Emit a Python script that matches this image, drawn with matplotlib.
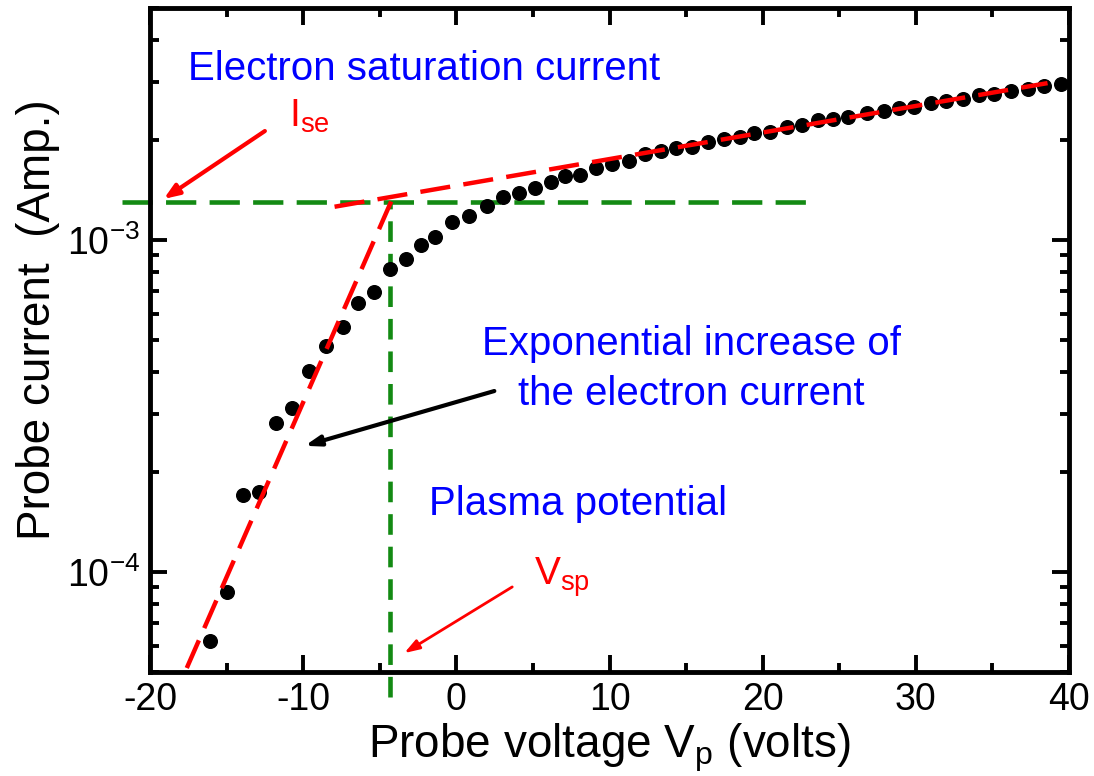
import matplotlib
matplotlib.use("Agg")
import matplotlib.pyplot as plt
from matplotlib.ticker import MultipleLocator, LogLocator, NullFormatter

plt.rcParams["font.family"] = "Liberation Sans"
plt.rcParams["mathtext.fontset"] = "custom"
plt.rcParams["mathtext.rm"] = "Liberation Sans"
plt.rcParams["mathtext.it"] = "Liberation Sans:italic"
plt.rcParams["mathtext.bf"] = "Liberation Sans:bold"
plt.rcParams["axes.unicode_minus"] = False

# measured probe characteristic (volts, amps)
probe_v = [-16.1, -15.0, -13.9, -12.9, -11.8, -10.7, -9.6, -8.5, -7.4, -6.4,
           -5.4, -4.35, -3.3, -2.3, -1.4, -0.3, 0.84, 1.99, 3.05, 4.09,
           5.13, 6.15, 7.12, 8.1, 9.13, 10.19, 11.27, 12.31, 13.35, 14.36,
           15.39, 16.43, 17.45, 18.49, 19.46, 20.47, 21.56, 22.6, 23.6, 24.58,
           25.6, 26.8, 27.9, 28.9, 29.9, 31.0, 32.0, 33.1, 34.1, 35.1,
           36.2, 37.3, 38.4, 39.5]
probe_i = [6.2e-5, 8.7e-5, 1.71e-4, 1.74e-4, 2.82e-4, 3.13e-4, 4.04e-4, 4.78e-4, 5.46e-4, 6.46e-4,
           6.98e-4, 8.2e-4, 8.75e-4, 9.66e-4, 1.02e-3, 1.13e-3, 1.18e-3, 1.27e-3, 1.35e-3, 1.39e-3,
           1.43e-3, 1.50e-3, 1.56e-3, 1.57e-3, 1.65e-3, 1.69e-3, 1.73e-3, 1.82e-3, 1.85e-3, 1.89e-3,
           1.91e-3, 1.97e-3, 2.01e-3, 2.04e-3, 2.10e-3, 2.11e-3, 2.19e-3, 2.22e-3, 2.30e-3, 2.31e-3,
           2.35e-3, 2.41e-3, 2.44e-3, 2.50e-3, 2.51e-3, 2.58e-3, 2.63e-3, 2.66e-3, 2.74e-3, 2.76e-3,
           2.81e-3, 2.86e-3, 2.91e-3, 2.96e-3]

# fitted straight lines (end points)
fit_exp_v = [-17.6, -4.0]
fit_exp_i = [5.14e-5, 1.39e-3]
fit_sat_v = [-7.95, 38.6]
fit_sat_i = [1.26e-3, 2.97e-3]

# guide lines for I_se and V_sp
ise_level_v = [-21.8, 22.8]
ise_level_i = [1.30e-3, 1.30e-3]
vsp_line_v = [-4.3, -4.3]
vsp_line_i = [4.2e-5, 1.30e-3]

RED = "#ff0000"
GREEN = "#138a13"
BLUE = "#0000ff"
TEXT_SIZE = 29

fig = plt.figure(figsize=(10.94, 7.76), dpi=100)
ax = fig.add_axes([150 / 1094, 1 - 672 / 776, 919 / 1094, 664 / 776])
ax.set_yscale("log")

ax.plot(ise_level_v, ise_level_i, color=GREEN, lw=3.3, dashes=(6.6, 2.9), clip_on=False, zorder=2)
ax.plot(vsp_line_v, vsp_line_i, color=GREEN, lw=3.3, dashes=(4.5, 2.6), clip_on=False, zorder=2)
ax.plot(probe_v, probe_i, "o", color="black", ms=9.8, zorder=3)
ax.plot(fit_exp_v, fit_exp_i, color=RED, lw=3.2, dashes=(6.8, 3.0), zorder=4)
ax.plot(fit_sat_v, fit_sat_i, color=RED, lw=3.2, dashes=(6.8, 3.0), zorder=4)

# annotations
ax.text(-17.5, 3.03e-3, "Electron saturation current", color=BLUE, fontsize=TEXT_SIZE)
ax.text(15.34, 4.51e-4, "Exponential increase of", color=BLUE, fontsize=TEXT_SIZE, ha="center")
ax.text(15.34, 3.19e-4, "the electron current", color=BLUE, fontsize=TEXT_SIZE, ha="center")
ax.text(-1.76, 1.49e-4, "Plasma potential", color=BLUE, fontsize=TEXT_SIZE)
ax.text(-10.9, 2.19e-3, r"I$_{\mathregular{se}}$", color=RED, fontsize=28)
ax.text(5.1, 9.14e-5, r"V$_{\mathregular{sp}}$", color=RED, fontsize=28)

ax.annotate("", xy=(-19.1, 1.33e-3), xytext=(-12.5, 2.13e-3),
            arrowprops=dict(arrowstyle="-|>,head_length=0.9,head_width=0.35",
                            color=RED, lw=3, shrinkA=0, shrinkB=0), zorder=5)
ax.annotate("", xy=(-3.4, 5.7e-5), xytext=(3.65, 9.02e-5),
            arrowprops=dict(arrowstyle="-|>,head_length=0.9,head_width=0.3",
                            color=RED, lw=2, shrinkA=0, shrinkB=0), zorder=5)
ax.annotate("", xy=(-9.9, 2.40e-4), xytext=(2.48, 3.51e-4),
            arrowprops=dict(arrowstyle="-|>,head_length=0.9,head_width=0.3",
                            color="black", lw=3, shrinkA=0, shrinkB=0), zorder=5)

ax.set_xlim(-20, 40)
ax.set_ylim(5e-5, 5e-3)
ax.xaxis.set_major_locator(MultipleLocator(10))
ax.xaxis.set_minor_locator(MultipleLocator(5))
ax.yaxis.set_major_locator(LogLocator(base=10))
ax.yaxis.set_minor_locator(LogLocator(base=10, subs=range(2, 10)))
ax.yaxis.set_minor_formatter(NullFormatter())

ax.tick_params(which="both", direction="in", top=True, right=True, width=2.8, labelsize=27)
ax.tick_params(which="major", length=12, pad=7)
ax.tick_params(which="minor", length=6.5)
for spine in ax.spines.values():
    spine.set_linewidth(3.5)

ax.set_xlabel(r"Probe voltage V$_{\mathregular{p}}$ (volts)", fontsize=33)
ax.set_ylabel("Probe current  (Amp.)", fontsize=33)
ax.xaxis.set_label_coords(0.5, -0.075)
ax.yaxis.set_label_coords(-0.098, 0.53)

fig.savefig("out.png", dpi=100)
